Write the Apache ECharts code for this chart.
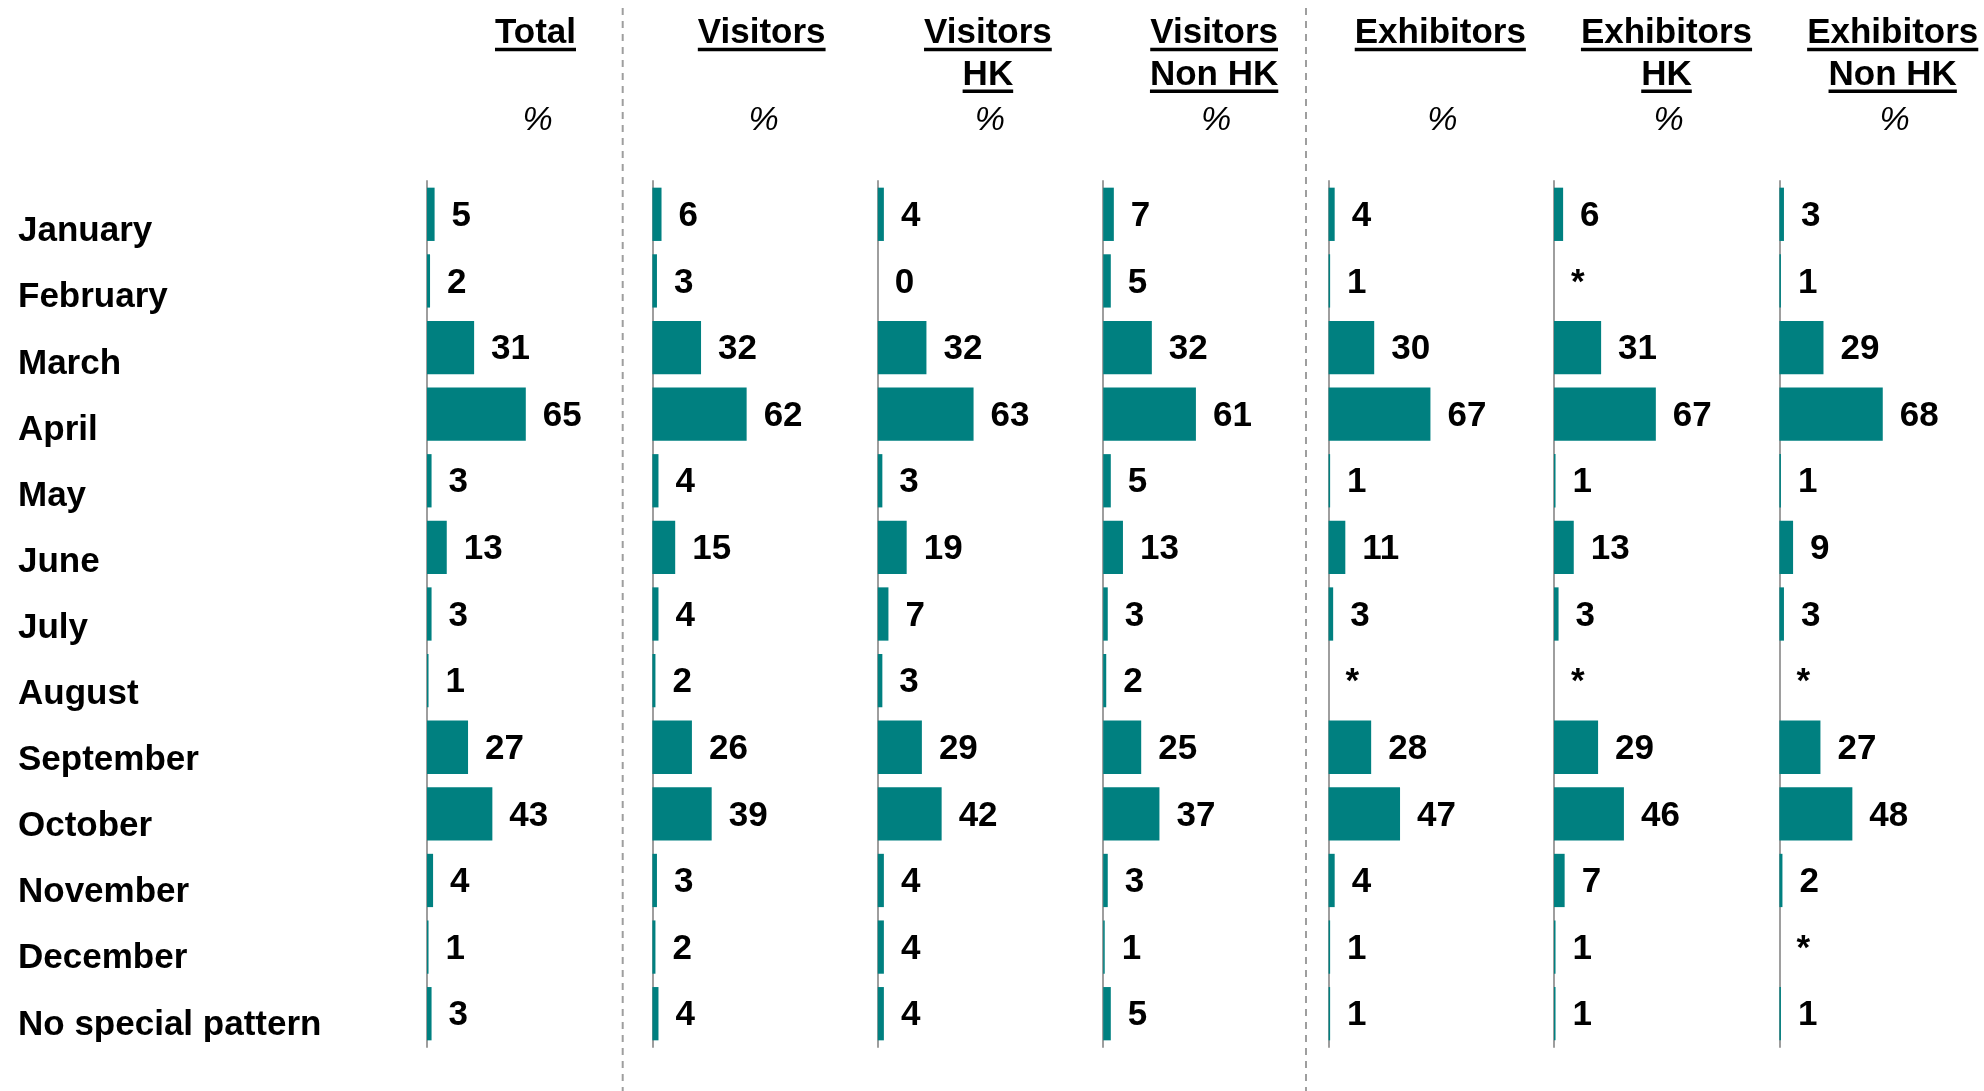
<!DOCTYPE html>
<html>
<head>
<meta charset="utf-8">
<title>Busiest months</title>
<script src="https://cdn.jsdelivr.net/npm/echarts@6/dist/echarts.min.js"></script>
<style>
  html, body { margin: 0; padding: 0; background: #fff; }
  #chart { width: 1984px; height: 1091px; }
</style>
</head>
<body>
<div id="chart"></div>
<script>
// ---- data -------------------------------------------------------------
const categories = ['January', 'February', 'March', 'April', 'May', 'June', 'July',
  'August', 'September', 'October', 'November', 'December', 'No special pattern'];

// '*' marks a share below 0.5%
const total           = [5, 2, 31, 65, 3, 13, 3, 1, 27, 43, 4, 1, 3];
const visitors        = [6, 3, 32, 62, 4, 15, 4, 2, 26, 39, 3, 2, 4];
const visitorsHK      = [4, 0, 32, 63, 3, 19, 7, 3, 29, 42, 4, 4, 4];
const visitorsNonHK   = [7, 5, 32, 61, 5, 13, 3, 2, 25, 37, 3, 1, 5];
const exhibitors      = [4, 1, 30, 67, 1, 11, 3, '*', 28, 47, 4, 1, 1];
const exhibitorsHK    = [6, '*', 31, 67, 1, 13, 3, '*', 29, 46, 7, 1, 1];
const exhibitorsNonHK = [3, 1, 29, 68, 1, 9, 3, '*', 27, 48, 2, '*', 1];

const headers = [['Total'], ['Visitors'], ['Visitors', 'HK'], ['Visitors', 'Non HK'],
  ['Exhibitors'], ['Exhibitors', 'HK'], ['Exhibitors', 'Non HK']];
const unitLabel = '%';

const panelValues = [total, visitors, visitorsHK, visitorsNonHK, exhibitors, exhibitorsHK, exhibitorsNonHK];

// ---- layout -----------------------------------------------------------
const FONT = '"Liberation Sans", Arial, Helvetica, sans-serif';
const TEAL = '#008080';
const GREY = '#9e9e9e';
const AXIS_X0 = 427, AXIS_STEP = 225.4;
const PLOT_TOP = 181, PLOT_H = 866, PLOT_W = 152;   // 100% spans PLOT_W px
const HEAD_X0 = 535.5, HEAD_STEP = 226.2;
const HEAD_SIZE = 35;
const HEAD_LINE_Y = [33.3, 75.1];
const UNIT_Y = 121;
const DIVIDERS_X = [622.7, 1306];

const chart = echarts.init(document.getElementById('chart'), null, { renderer: 'canvas' });

const grids = [], xAxes = [], yAxes = [], series = [];

panelValues.forEach((vals, k) => {
  grids.push({ left: AXIS_X0 + k * AXIS_STEP, top: PLOT_TOP, width: PLOT_W, height: PLOT_H });
  xAxes.push({ gridIndex: k, type: 'value', min: 0, max: 100, show: false });
  yAxes.push({
    gridIndex: k, type: 'category', data: categories, inverse: true,
    axisLine: { show: true, lineStyle: { color: GREY, width: 2 } },
    axisTick: { show: false }, axisLabel: { show: false }, splitLine: { show: false }
  });
  series.push({
    type: 'bar', xAxisIndex: k, yAxisIndex: k, silent: true,
    barCategoryGap: '20%',
    data: vals.map(v => (typeof v === 'number' ? v : 0)),
    itemStyle: { color: TEAL },
    label: {
      show: true, position: 'right', distance: 17, offset: [0, 2],
      formatter: p => String(vals[p.dataIndex]),
      color: '#000', fontSize: 35, fontWeight: 'bold', fontFamily: FONT
    }
  });
});

// row captions on their own category axis
const lk = panelValues.length;
grids.push({ left: 400, top: 198.6, width: 1, height: 859.3 });
xAxes.push({ gridIndex: lk, type: 'value', show: false });
yAxes.push({
  gridIndex: lk, type: 'category', data: categories, inverse: true,
  axisLine: { show: false }, axisTick: { show: false }, splitLine: { show: false },
  axisLabel: {
    show: true, interval: 0, align: 'left', margin: 382,
    fontSize: 35, fontWeight: 'bold', color: '#000', fontFamily: FONT
  }
});

// ---- column headers, underlines and dividers --------------------------
const measure = document.createElement('canvas').getContext('2d');
measure.font = 'bold ' + HEAD_SIZE + 'px "Liberation Sans", Arial';

const graphics = [];
DIVIDERS_X.forEach(x => {
  graphics.push({
    type: 'line', silent: true,
    shape: { x1: x, y1: 8, x2: x, y2: 1091 },
    style: { stroke: GREY, lineWidth: 2, lineDash: [7, 6] }
  });
});

headers.forEach((lines, k) => {
  const cx = HEAD_X0 + k * HEAD_STEP;
  lines.forEach((txt, li) => {
    const y = HEAD_LINE_Y[li];
    graphics.push({
      type: 'text', silent: true, x: cx, y: y,
      style: {
        text: txt, fill: '#000',
        font: 'bold ' + HEAD_SIZE + 'px ' + FONT,
        align: 'center', verticalAlign: 'middle',
        textAlign: 'center', textVerticalAlign: 'middle'
      }
    });
    const w = measure.measureText(txt).width;
    const baseline = y + 0.31 * HEAD_SIZE;
    graphics.push({
      type: 'rect', silent: true,
      shape: { x: cx - w / 2, y: baseline + 3.5, width: w, height: 3.5 },
      style: { fill: '#000' }
    });
  });
  graphics.push({
    type: 'text', silent: true, x: cx + 2, y: UNIT_Y,
    style: {
      text: unitLabel, fill: '#000',
      font: 'italic 34px ' + FONT,
      align: 'center', verticalAlign: 'middle',
      textAlign: 'center', textVerticalAlign: 'middle'
    }
  });
});

chart.setOption({
  animation: false,
  backgroundColor: '#fff',
  grid: grids,
  xAxis: xAxes,
  yAxis: yAxes,
  series: series,
  graphic: graphics
});
</script>
</body>
</html>
